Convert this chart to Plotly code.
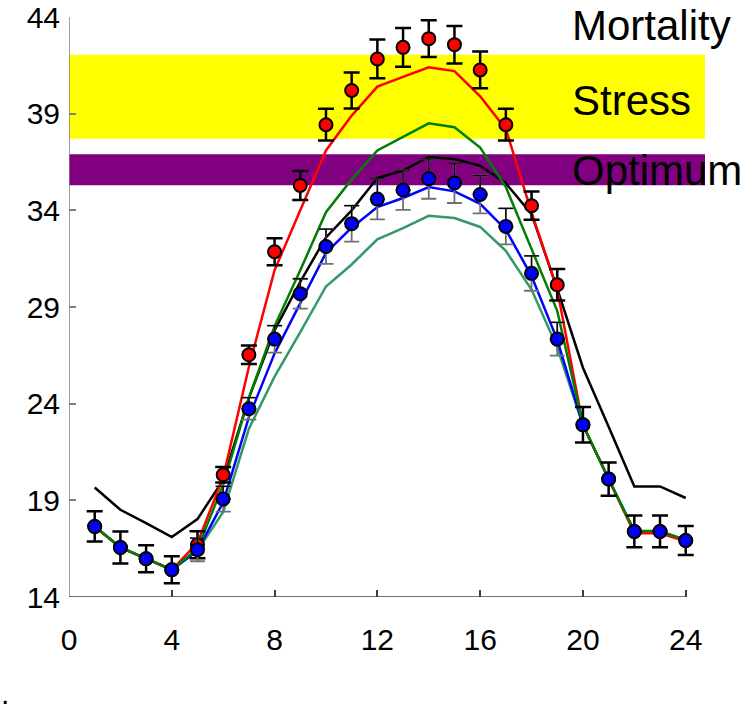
import plotly.graph_objects as go

# Hour of day
hours = list(range(1, 25))

# Observed temperatures with standard errors (red: exposed site, blue: sheltered site)
red_obs = [17.65, 16.56, 15.98, 15.41, 16.70, 20.32, 26.53, 31.86, 35.29, 38.43, 40.20, 41.83,
           42.43, 42.88, 42.57, 41.26, 38.43, 34.24, 30.15, 22.91, 20.10, 17.39, 17.39, 16.92]
red_err = [0.78, 0.83, 0.70, 0.70, 0.70, 0.40, 0.48, 0.70, 0.75, 0.82, 0.93, 1.00,
           1.00, 0.95, 0.97, 0.95, 0.82, 0.73, 0.82, 0.92, 0.86, 0.82, 0.82, 0.75]

blue_obs = [17.65, 16.56, 15.98, 15.41, 16.45, 19.07, 23.74, 27.34, 29.69, 32.13, 33.31, 34.58,
            35.05, 35.63, 35.41, 34.82, 33.17, 30.74, 27.34, 22.91, 20.10, 17.39, 17.39, 16.92]
blue_err = [None, None, None, None, 0.60, 0.65, 0.57, 0.70, 0.77, 0.90, 0.93, 1.05,
            1.03, 1.03, 1.03, 0.98, 0.93, 0.90, 0.86, None, None, None, None, None]

# Modelled temperature curves
red_model = [17.65, 16.56, 15.98, 15.41, 16.80, 20.20, 25.90, 30.90, 34.00, 37.10, 38.90, 40.40,
             40.90, 41.40, 41.20, 39.90, 38.20, 33.90, 29.90, 22.90, 20.10, 17.30, 17.30, 16.88]
green_model = [17.65, 16.56, 15.98, 15.41, 16.50, 19.80, 24.30, 28.00, 30.90, 33.90, 35.60, 37.10,
               37.80, 38.50, 38.30, 37.25, 35.20, 32.00, 28.80, 22.90, 20.10, 17.42, 17.42, 16.95]
black_model = [19.66, 18.51, 17.82, 17.10, 18.03, 20.06, 24.30, 27.80, 30.30, 32.60, 34.00, 35.67,
               36.06, 36.76, 36.65, 36.31, 35.40, 33.80, 29.95, 25.86, 22.80, 19.72, 19.72, 19.12]
blue_model = [17.65, 16.56, 15.98, 15.41, 16.40, 18.90, 23.30, 26.60, 29.20, 31.80, 33.10, 34.17,
              34.64, 35.20, 34.98, 34.34, 33.00, 30.60, 27.30, 22.90, 20.10, 17.39, 17.39, 16.92]
teal_model = [17.65, 16.56, 15.98, 15.41, 16.40, 18.40, 22.70, 25.40, 27.70, 30.06, 31.20, 32.50,
              33.08, 33.72, 33.60, 33.14, 31.90, 29.90, 26.90, 22.90, 20.10, 17.39, 17.39, 16.92]

# Thermal zones (lower, upper)
stress_band = (37.7, 42.05)
optimum_band = (35.3, 36.9)
zone_labels = ["Mortality", "Stress", "Optimum"]
zone_label_y = [43.54, 39.70, 36.08]

x_ticks = [0, 4, 8, 12, 16, 20, 24]
y_ticks = [14, 19, 24, 29, 34, 39, 44]
x_max = 24.75

FONT = "Liberation Sans, Arial, sans-serif"

fig = go.Figure()

# Zone bands
fig.add_shape(type="rect", xref="x", yref="y", x0=0, x1=x_max,
              y0=stress_band[0], y1=stress_band[1],
              fillcolor="#ffff00", line_width=0, layer="below")
fig.add_shape(type="rect", xref="x", yref="y", x0=0, x1=x_max,
              y0=optimum_band[0], y1=optimum_band[1],
              fillcolor="#800080", line_width=0, layer="below")

# Model curves
for ys, col in [(teal_model, "#339966"), (blue_model, "#0000ff"), (black_model, "#000000"),
                (red_model, "#ff0000"), (green_model, "#008000")]:
    fig.add_trace(go.Scatter(x=hours, y=ys, mode="lines",
                             line=dict(color=col, width=2.5), showlegend=False,
                             hoverinfo="skip"))

# Red observations with thick error bars
fig.add_trace(go.Scatter(
    x=hours, y=red_obs, mode="markers",
    marker=dict(size=13, color="#ff0000", line=dict(color="#000000", width=2)),
    error_y=dict(type="data", array=red_err, color="#000000", thickness=2.5, width=8),
    showlegend=False))

# Blue observations: thin error bars, grey below and black above
bx = [h for h, e in zip(hours, blue_err) if e is not None]
by = [v for v, e in zip(blue_obs, blue_err) if e is not None]
be = [e for e in blue_err if e is not None]
fig.add_trace(go.Scatter(
    x=bx, y=by, mode="markers", marker=dict(size=2, color="rgba(0,0,0,0)"),
    error_y=dict(type="data", array=be, color="#707070", thickness=1.8, width=7.5),
    showlegend=False, hoverinfo="skip"))
fig.add_trace(go.Scatter(
    x=bx, y=by, mode="markers", marker=dict(size=2, color="rgba(0,0,0,0)"),
    error_y=dict(type="data", symmetric=False, array=be, arrayminus=[0] * len(be),
                 color="#000000", thickness=1.3, width=7.5),
    showlegend=False, hoverinfo="skip"))
fig.add_trace(go.Scatter(
    x=hours, y=blue_obs, mode="markers",
    marker=dict(size=13, color="#0000ff", line=dict(color="#000000", width=2)),
    showlegend=False))

# Axis lines spanning only the data extent
fig.add_shape(type="line", xref="x", yref="y", x0=0, x1=0, y0=y_ticks[0], y1=y_ticks[-1],
              line=dict(color="#808080", width=1.5))
fig.add_shape(type="line", xref="x", yref="y", x0=0, x1=x_ticks[-1], y0=y_ticks[0], y1=y_ticks[0],
              line=dict(color="#404040", width=1.5))

# Zone labels
for txt, yy in zip(zone_labels, zone_label_y):
    fig.add_annotation(x=19.50, y=yy, xref="x", yref="y", text=txt, showarrow=False,
                       xanchor="left", yanchor="middle",
                       font=dict(family=FONT, size=42, color="#000000"))

fig.add_annotation(x=-0.1085, y=-0.197, xref="paper", yref="paper", text=".",
                   showarrow=False, xanchor="left", yanchor="bottom", borderpad=0,
                   font=dict(family=FONT, size=30, color="#000000"))

fig.update_layout(
    width=756, height=718,
    margin=dict(l=69, r=51, t=17, b=121, autoexpand=False),
    paper_bgcolor="white", plot_bgcolor="white",
    font=dict(family=FONT, size=30, color="#000000"),
    xaxis=dict(range=[0, x_max], tickvals=x_ticks, ticks="inside", ticklen=7,
               tickcolor="#404040", tickwidth=1.5, showgrid=False, zeroline=False,
               showline=False, ticklabelstandoff=22, tickfont=dict(size=30),
               automargin=False),
    yaxis=dict(range=[y_ticks[0], y_ticks[-1]], tickvals=y_ticks, ticks="inside", ticklen=7,
               tickcolor="#808080", tickwidth=1.5, showgrid=False, zeroline=False,
               showline=False, ticklabelstandoff=8, tickfont=dict(size=30),
               automargin=False),
)

fig.write_html("out.html")
